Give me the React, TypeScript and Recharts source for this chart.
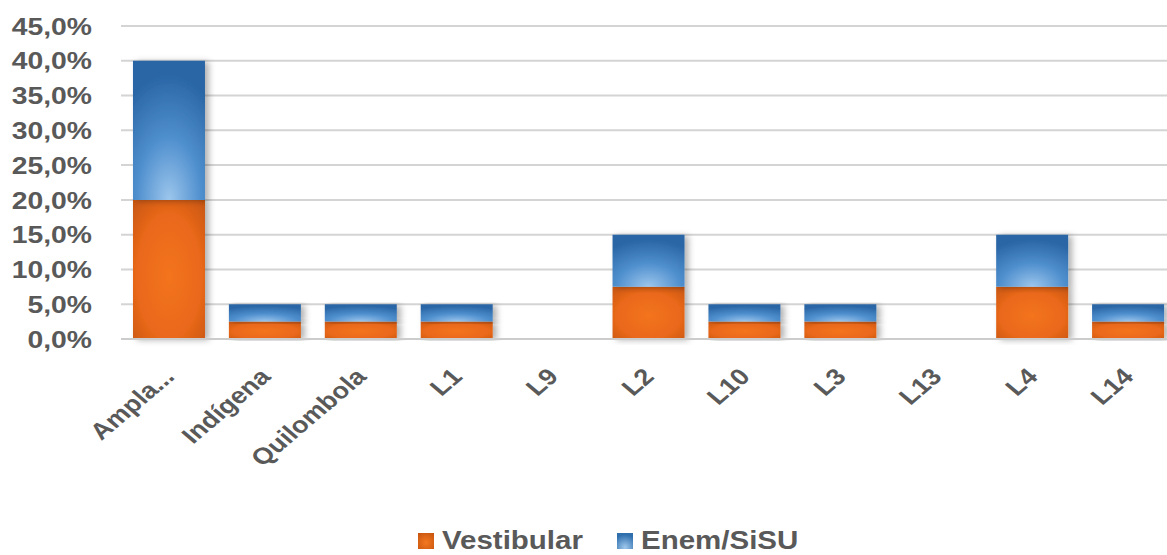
import React from 'react';
import { BarChart, Bar, XAxis, YAxis, CartesianGrid, Legend, Rectangle } from 'recharts';

const categories = ['Ampla...', 'Indígena', 'Quilombola', 'L1', 'L9', 'L2', 'L10', 'L3', 'L13', 'L4', 'L14'];
const vestibular = [20, 2.5, 2.5, 2.5, 0, 7.5, 2.5, 2.5, 0, 7.5, 2.5];
const enemSisu = [20, 2.5, 2.5, 2.5, 0, 7.5, 2.5, 2.5, 0, 7.5, 2.5];
const yTicks = [0, 5, 10, 15, 20, 25, 30, 35, 40, 45];
const seriesKeys = ['vestibular', 'enem'];

const data = categories.map((c, i) => ({ name: c, vestibular: vestibular[i], enem: enemSisu[i] }));

const FONT = '"Liberation Sans", Arial, sans-serif';
const TXT = '#595959';
const SX = 1.18;

const fmt = (v: number) => `${v.toFixed(1).replace('.', ',')}%`;

const YTick = (props: any) => {
  const { x, y, payload } = props;
  return (
    <g transform={`translate(${x},${y}) scale(${SX},1)`}>
      <text x={0} y={0} dy="0.36em" textAnchor="end" fontFamily={FONT} fontWeight={700} fontSize={24} fill={TXT}>
        {fmt(payload.value)}
      </text>
    </g>
  );
};

const XTick = (props: any) => {
  const { x, y, payload } = props;
  return (
    <g transform={`translate(${x + 7},${y + 39}) scale(${SX},1) rotate(-45)`}>
      <text x={0} y={0} textAnchor="end" fontFamily={FONT} fontWeight={700} fontSize={23} fill={TXT}>
        {payload.value}
      </text>
    </g>
  );
};

const legendX = [418, 617];
const LegendContent = (props: any) => {
  const payload = [...(props.payload || [])].sort(
    (a: any, b: any) => seriesKeys.indexOf(a.dataKey) - seriesKeys.indexOf(b.dataKey)
  );
  return (
    <svg width={1206} height={36} style={{ display: 'block' }}>
      <defs>
        <radialGradient id="lgO" cx="0.5" cy="0.6" r="0.7">
          <stop offset="0" stopColor="#f4781f" />
          <stop offset="1" stopColor="#c9560f" />
        </radialGradient>
        <radialGradient id="lgB" cx="0.5" cy="0.9" r="0.8">
          <stop offset="0" stopColor="#9fc8ec" />
          <stop offset="1" stopColor="#2f6fae" />
        </radialGradient>
      </defs>
      {payload.map((p: any, i: number) => (
        <g key={p.value}>
          <rect x={legendX[i]} y={14} width={16} height={16} fill={p.dataKey === 'vestibular' ? 'url(#lgO)' : 'url(#lgB)'} />
          <g transform={`translate(${legendX[i] + 24},30) scale(${SX},1)`}>
            <text x={0} y={0} fontFamily={FONT} fontWeight={700} fontSize={25} fill={TXT}>
              {p.value}
            </text>
          </g>
        </g>
      ))}
    </svg>
  );
};

const ShadowBar = (props: any) => {
  return <Rectangle {...props} filter="url(#barShadow)" />;
};

export default function App() {
  return (
    <div style={{ position: 'absolute', left: 0, top: 0, width: 1167, height: 555, overflow: 'hidden', background: '#fff' }}>
      <BarChart
        width={1206}
        height={555}
        data={data}
        margin={{ top: 26, right: 30, bottom: 16, left: 0 }}
        barCategoryGap="12.5%"
      >
        <defs>
          <radialGradient id="gOrange" cx="0.5" cy="0.55" r="0.75">
            <stop offset="0" stopColor="#f3741d" />
            <stop offset="0.6" stopColor="#e9681a" />
            <stop offset="1" stopColor="#c55510" />
          </radialGradient>
          <radialGradient id="gBlue" cx="0.5" cy="1" r="0.9">
            <stop offset="0" stopColor="#9cc6ec" />
            <stop offset="0.5" stopColor="#4f8fce" />
            <stop offset="1" stopColor="#2a66a6" />
          </radialGradient>
          <filter id="barShadow" x="-20%" y="-10%" width="150%" height="120%">
            <feDropShadow dx="4" dy="1" stdDeviation="3" floodColor="#000" floodOpacity="0.3" />
          </filter>
        </defs>
        <CartesianGrid vertical={false} stroke="#d4d4d4" strokeWidth={2} />
        <XAxis
          dataKey="name"
          interval={0}
          height={200}
          tickSize={0}
          tickMargin={0}
          tickLine={false}
          axisLine={{ stroke: '#cccccc', strokeWidth: 2 }}
          tick={<XTick />}
        />
        <YAxis
          domain={[0, 45]}
          ticks={yTicks}
          width={121}
          tickSize={0}
          tickMargin={29}
          tickLine={false}
          axisLine={false}
          tick={<YTick />}
        />
        <Legend
          verticalAlign="middle"
          align="center"
          content={<LegendContent />}
          wrapperStyle={{ top: 519, left: 0, width: 1206, height: 36 }}
        />
        <Bar dataKey="vestibular" name="Vestibular" stackId="a" fill="url(#gOrange)" isAnimationActive={false} shape={<ShadowBar />} />
        <Bar dataKey="enem" name="Enem/SiSU" stackId="a" fill="url(#gBlue)" isAnimationActive={false} shape={<ShadowBar />} />
      </BarChart>
    </div>
  );
}
